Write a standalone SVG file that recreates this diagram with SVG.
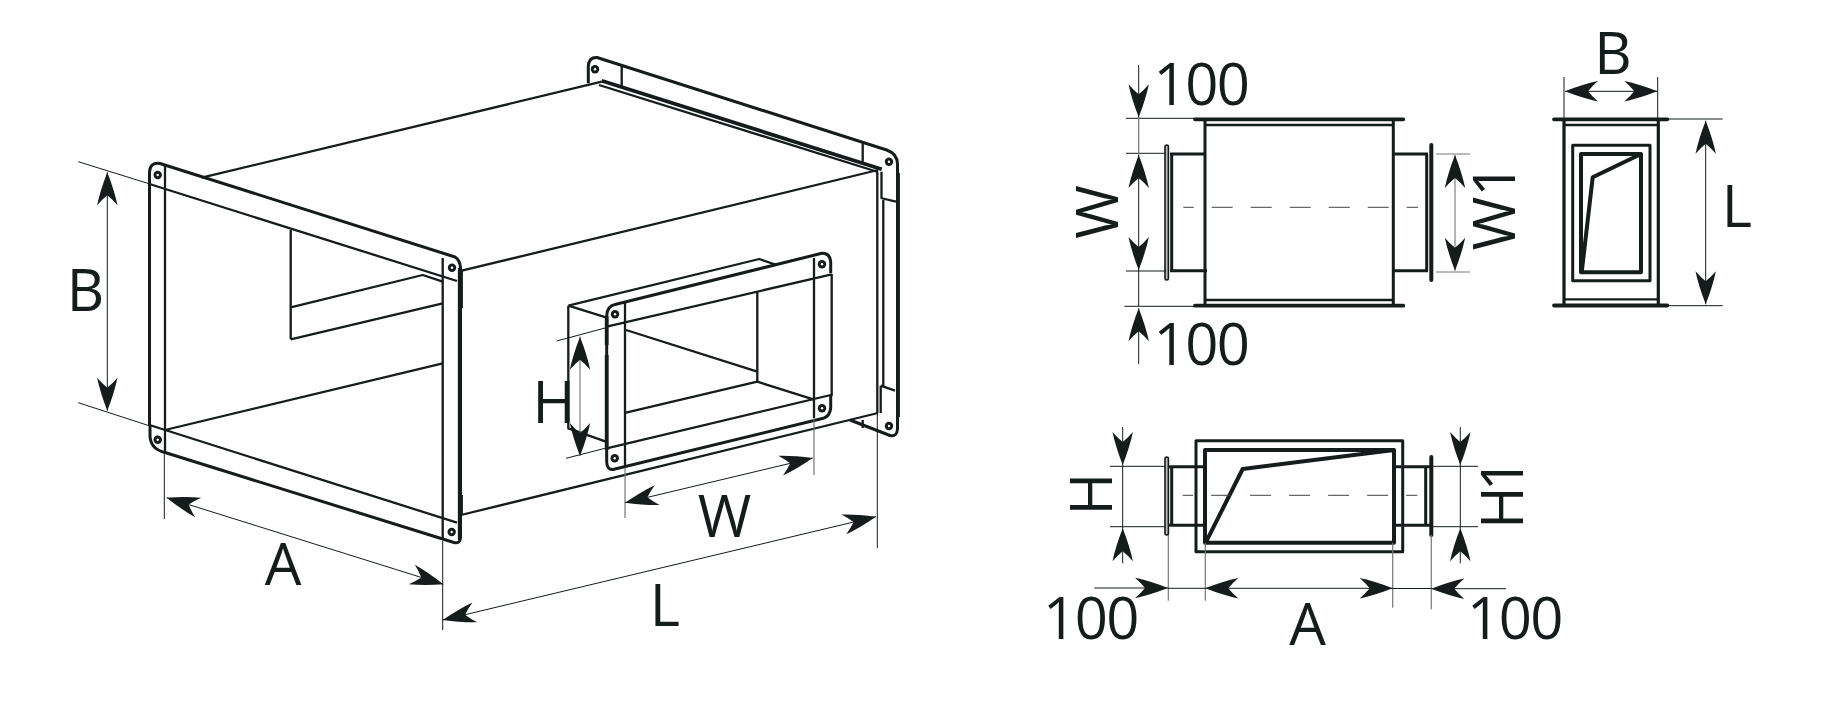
<svg xmlns="http://www.w3.org/2000/svg" width="1823" height="720" viewBox="0 0 1823 720">
<style>
.s{fill:none;stroke:#141c1c;stroke-width:2.3;stroke-linejoin:round;stroke-linecap:butt}
.m{fill:none;stroke:#141c1c;stroke-width:3;stroke-linejoin:round}
.k{fill:none;stroke:#141c1c;stroke-width:3.8;stroke-linejoin:round}
.r{fill:none;stroke:#141c1c;stroke-width:4;stroke-linecap:round}
.e{fill:none;stroke:#141c1c;stroke-width:1}
.g{fill:none;stroke:#777;stroke-width:1.2}
.c{fill:none;stroke:#444;stroke-width:1;stroke-dasharray:21 18;stroke-dashoffset:10.6}
.d{fill:none;stroke:#141c1c;stroke-width:1;marker-end:url(#a)}
.dd{fill:none;stroke:#141c1c;stroke-width:1;marker-start:url(#a);marker-end:url(#a)}
.h{fill:#141c1c}
.hw{fill:#fff}
.n{letter-spacing:-1.5px}
text{font-family:"Open Sans","Liberation Sans",sans-serif;font-size:58px;fill:#141c1c;text-anchor:middle}
</style>
<defs>
<marker id="a" markerUnits="userSpaceOnUse" markerWidth="36" markerHeight="24" refX="33" refY="12" orient="auto-start-reverse" overflow="visible">
<path d="M33,12 Q15,5 0,1.8 Q6,7 10,12 Q6,17 0,22.2 Q15,19 33,12Z" fill="#141c1c"/>
</marker>
<g id="hole"><circle r="4.2" class="h"/><circle r="1.2" class="hw"/></g>
</defs>

<g id="isometric-view">
<g id="front-flange">
<path class="m" d="M149.5,425V172Q150,162 160,163.5L455,257Q460,260 460.5,268V538Q460,544 454,542.5L165,452.5Q150.5,449 150,436V425"/>
<path class="s" d="M149.5,184L457,281M149.5,425L457,522.7M165,166V452.5M442.7,258V540M459,268V540"/>
<path class="k" d="M461,270V308M461,495V515"/>
<use href="#hole" x="157.7" y="175"/><use href="#hole" x="452" y="267.7"/>
<use href="#hole" x="157.7" y="439.7"/><use href="#hole" x="451.7" y="532"/>
</g>
<g id="box-body">
<path class="s" d="M201.7,177.7L601.7,81.7M461.7,270.7L878,170M461,515L878,413"/>
<path class="s" d="M290.7,230V339.3M290.7,307.3L422.7,275L442.7,281.7M290.7,339.3L442.7,303.3M165,430L442.7,363.3"/>
</g>
<g id="rear-flange">
<path class="m" d="M588.3,83.3V66Q589,57 597,57.5L886.7,150Q898,154 897.5,165V429Q897,437 890,435.5L850,420"/>
<path class="s" d="M621.7,66.7V87.3M862.7,143.3V161.7M862.7,420V428M877.3,171.7V413M881.5,171.7V198M880.7,198L896,201.7M883.3,200V386M880.7,385.7L895,390.7M880.7,385.7V413"/>
<path class="k" d="M601.7,80.7L881.7,169.3"/>
<path class="s" d="M599,85L878,172"/>
<path class="k" d="M898,173V417"/>
<use href="#hole" x="595" y="69.3"/><use href="#hole" x="889" y="161.7"/><use href="#hole" x="889" y="426"/>
</g>
<g id="side-flange">
<path class="m" d="M606.7,448V316Q607,306 615,304.5L821.7,253.3Q830,253 830.7,262V273M606.7,448V462Q607,470 613,469.5L823.3,418.3Q830,416 830.7,408V395"/>
<path class="k" d="M606.7,316V345M606.7,355V450"/>
<path class="s" d="M606.7,326.7L831.7,274.3M606.7,448.3L830.7,395M625,303V468M814,258V418M831.7,274V396M757.3,291.7V381.7"/>
<path class="s" d="M568.3,305.7L759.3,259L776.7,265M568.3,305.7L606,317.3M568.3,305.7V428.3L606,441.7M626,330L757.3,371.7M757.3,381.7L626,412.7M757.3,381.7L813.3,399.3"/>
<use href="#hole" x="615" y="314.3"/><use href="#hole" x="822" y="264.3"/>
<use href="#hole" x="614.7" y="458.3"/><use href="#hole" x="822" y="408.3"/>
</g>
<g id="isometric-dimensions">
<path class="e" d="M78.3,161.7L150,184M78.3,402.7L150,426M164.3,452V519M442.7,541V630M877.3,413V548M556.7,341L605,328M566,458.3L605,448.3"/>
<path class="g" d="M625,468V518M814,418V475"/>
<path class="dd" d="M107.3,172.3V410.7"/>
<path class="dd" d="M166.7,497.7L443.3,584.3"/>
<path class="dd" d="M442.7,620L876,516.7"/>
<path class="dd" d="M625,502.7L812.7,458"/>
<path class="dd" d="M580,336.7V456" style="stroke:#666"/>
</g>
</g>

<g id="top-view">
<g id="top-view-shape">
<path class="k" d="M1195,119.3H1403.3M1195,305.7H1403.3" stroke-linecap="round"/>
<path class="s" d="M1205,125H1393.3M1205,300H1393.3"/>
<path class="m" d="M1205,119V306M1393.3,119V306M1170,154H1205M1170,270.7H1207M1171.7,154V271M1393,154H1428M1393,270.7H1428M1426.7,154V271"/>
<path class="r" d="M1431.3,145V280"/>
<rect x="1165" y="145" width="3.4" height="135" rx="1.7" fill="#bbb" stroke="#141c1c" stroke-width="1.6"/>
<path class="c" d="M1183.3,207.3H1418"/>
</g>
<g id="top-view-dimensions">
<path class="e" d="M1126,118.3H1195M1126,153.3H1166M1126,271H1166M1124.3,306.3H1195"/>
<path class="g" d="M1436,154H1470M1436,272H1470M1138.7,117V155"/>
<path class="e" d="M1138.7,270V306"/>
<path class="d" d="M1138.7,65V117.3"/>
<path class="dd" d="M1138.7,155V270"/>
<path class="d" d="M1138.7,364V308.3"/>
<path class="dd" d="M1455,155V270.7" style="stroke:#666"/>
</g>
</g>

<g id="front-view">
<g id="front-view-shape">
<path class="k" d="M1554,119.3H1667.3M1554,305.5H1667.3" stroke-linecap="round"/>
<path class="s" d="M1564,125H1658.3M1564,299.3H1658.3"/>
<path class="k" d="M1564,119V306M1658.3,119V306" style="stroke-width:3.2"/>
<rect x="1572.7" y="145.3" width="77.3" height="135.4" class="m"/>
<path class="k" d="M1581,154H1641V272.3H1581ZM1641,154L1592.7,177.3L1581.7,272.3" style="stroke-width:4"/>
</g>
<g id="front-view-dimensions">
<path class="e" d="M1564,77V119M1657.7,77V119M1667,119H1722.7M1667,305.7H1722.7"/>
<path class="dd" d="M1565,91.3H1657.3"/>
<path class="dd" d="M1705.7,120.7V304.3"/>
</g>
</g>

<g id="side-view">
<g id="side-view-shape">
<rect x="1196" y="440.7" width="206.7" height="111" class="m"/>
<path class="k" d="M1205,450H1394V542.7H1205ZM1394,450L1242.7,469L1205.7,542.7" style="stroke-width:4"/>
<path class="m" d="M1167,466.7H1205M1167,525.3H1205M1171.7,466.7V525.3M1394,466.7H1431M1394,525.3H1431M1425.7,466.7V525.3"/>
<path class="r" d="M1431.3,457V535"/>
<rect x="1165" y="457" width="3.4" height="78" rx="1.7" fill="#bbb" stroke="#141c1c" stroke-width="1.6"/>
<path class="c" d="M1182.7,495.3H1417.3"/>
</g>
<g id="side-view-dimensions">
<path class="e" d="M1110,466.3H1165M1110,526.7H1165M1433,466.3H1478M1433,526.7H1478"/>
<path class="g" d="M1168.3,535V600.7M1205.3,543V600.7M1392.7,543V607.7M1431.3,535V609.3"/>
<path class="e" d="M1122.7,465V528.3M1460.3,465V528.3"/>
<path class="d" d="M1122.7,427V465"/>
<path class="d" d="M1122.7,563.3V528.3"/>
<path class="d" d="M1460.3,427V465"/>
<path class="d" d="M1460.3,563.3V528.3"/>
<path class="d" d="M1094.3,588H1168"/>
<path class="dd" d="M1205.3,588.3H1392.7"/>
<path class="d" d="M1506,588.7H1431.3"/>
<path class="e" d="M1168,588.3H1205.3M1392.7,588.5H1431.3"/>
</g>
</g>

<g id="labels">
<text x="85.5" y="310.7">B</text>
<text x="283" y="585">A</text>
<text x="665" y="626">L</text>
<text x="724.5" y="536.7">W</text>
<text x="554" y="422.7">H</text>
<text class="n" x="1201" y="105">100</text>
<text class="n" x="1201" y="365">100</text>
<text transform="translate(1118.3,212) rotate(-90)">W</text>
<text transform="translate(1515,207) rotate(-90)">W1</text>
<text x="1613" y="74.3">B</text>
<text x="1737" y="227.3">L</text>
<text transform="translate(1112.3,494) rotate(-90)">H</text>
<text transform="translate(1522.8,496) rotate(-90)" style="letter-spacing:-5px">H1</text>
<text class="n" x="1090.5" y="639">100</text>
<text class="n" x="1514.5" y="639">100</text>
<text x="1307.5" y="645">A</text>
</g>
</svg>
